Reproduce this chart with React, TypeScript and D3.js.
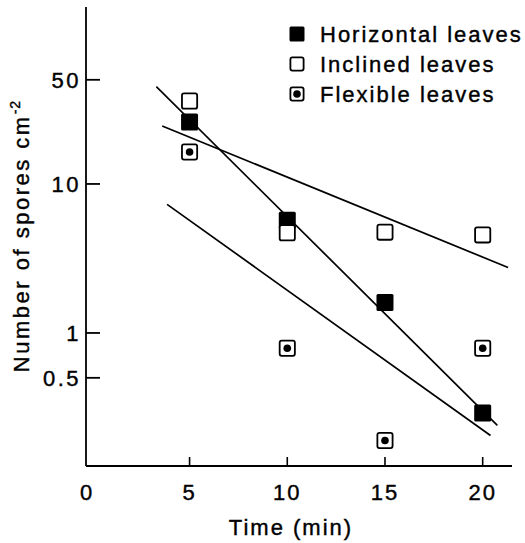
// Spore deposition vs time, log y axis
import React from 'react';
import * as d3 from 'd3';

const times = [5, 10, 15, 20];
const horizontal = [26, 5.7, 1.6, 0.29];
const inclined = [36, 4.7, 4.75, 4.55];
const flexible = [16.4, 0.79, 0.19, 0.79];

// fitted lines (end points)
const horizontalFitX = [3.3, 20.75];
const horizontalFitY = [45, 0.24];
const inclinedFitX = [3.6, 21.3];
const inclinedFitY = [24.5, 2.75];
const flexibleFitX = [3.85, 20.4];
const flexibleFitY = [7.3, 0.205];

const xTicks = [0, 5, 10, 15, 20];
const yTicks = [0.5, 1, 10, 50];
const yTickLabels = ['0.5', '1', '10', '50'];
const legendLabels = ['Horizontal leaves', 'Inclined leaves', 'Flexible leaves'];

const W = 525;
const H = 543;
const FONT = "'Liberation Sans', Arial, Helvetica, sans-serif";

const App = () => {
  const x = d3.scaleLinear().domain([-0.3, 21.5]).range([86, 512]);
  const y = d3.scaleLog().domain([0.128, 154]).range([466, 7]);

  const line = d3.line<[number, number]>()
    .x(d => x(d[0]))
    .y(d => y(d[1]));

  const fits = [
    [horizontalFitX, horizontalFitY],
    [inclinedFitX, inclinedFitY],
    [flexibleFitX, flexibleFitY],
  ].map(([xs, ys]) => line(xs.map((v, i) => [v, ys[i]] as [number, number])) || '');

  const x0 = x.range()[0];
  const yBottom = y.range()[0];

  const marker = (kind: number, cx: number, cy: number, s: number, key: string) => {
    if (kind === 0) {
      return <rect key={key} x={cx - s / 2} y={cy - s / 2} width={s} height={s} rx={1.5} fill="#000" />;
    }
    return (
      <g key={key}>
        <rect x={cx - s / 2 + 0.9} y={cy - s / 2 + 0.9} width={s - 1.8} height={s - 1.8} rx={2}
          fill="#fff" stroke="#000" strokeWidth={1.8} />
        {kind === 2 && <circle cx={cx} cy={cy} r={3.8} fill="#000" />}
      </g>
    );
  };

  const series = [horizontal, inclined, flexible];
  const txt = { stroke: '#000', strokeWidth: 0.4 };

  return (
    <svg width={W} height={H} style={{ position: 'absolute', left: 0, top: 0, background: '#fff' }}
      fontFamily={FONT}>
      {/* axes */}
      <line x1={x0} x2={x0} y1={y.range()[1]} y2={yBottom} stroke="#000" strokeWidth={1.8} />
      <line x1={x0} x2={x.range()[1]} y1={yBottom} y2={yBottom} stroke="#000" strokeWidth={1.8} />

      {yTicks.map((t, i) => (
        <g key={'yt' + t}>
          <line x1={x0} x2={x0 + 14} y1={y(t)} y2={y(t)} stroke="#000" strokeWidth={1.8} />
          <text x={x0 - 5} y={y(t) + 8} textAnchor="end" fontSize={22} letterSpacing={2.5} {...txt}>
            {yTickLabels[i]}
          </text>
        </g>
      ))}

      {xTicks.map(t => (
        <g key={'xt' + t}>
          {t > 0 && <line x1={x(t)} x2={x(t)} y1={yBottom} y2={yBottom - 9} stroke="#000" strokeWidth={1.6} />}
          <text x={t === 0 ? x0 + 1 : x(t)} y={500} textAnchor="middle" fontSize={22} letterSpacing={2} {...txt}>
            {t}
          </text>
        </g>
      ))}

      <text x={291} y={535} textAnchor="middle" fontSize={22} letterSpacing={2} {...txt}>Time (min)</text>

      <text transform="translate(29,236) rotate(-90)" textAnchor="middle" fontSize={22} letterSpacing={2.5} {...txt}>
        Number of spores cm<tspan dy={-9} fontSize={14} letterSpacing={1}>-2</tspan>
      </text>

      {/* fitted lines */}
      {fits.map((d, i) => (
        <path key={'fit' + i} d={d} fill="none" stroke="#000" strokeWidth={1.7} />
      ))}

      {/* points */}
      {series.map((vals, si) =>
        vals.map((v, i) => marker(si, x(times[i]), y(v), 17, `p${si}-${i}`))
      )}

      {/* legend */}
      {legendLabels.map((lab, i) => (
        <g key={'lg' + i}>
          {marker(i, 297, 34 + i * 30, 15, 'lm' + i)}
          <text x={320} y={42 + i * 30} fontSize={22} letterSpacing={2} {...txt}>{lab}</text>
        </g>
      ))}
    </svg>
  );
};

export default App;
